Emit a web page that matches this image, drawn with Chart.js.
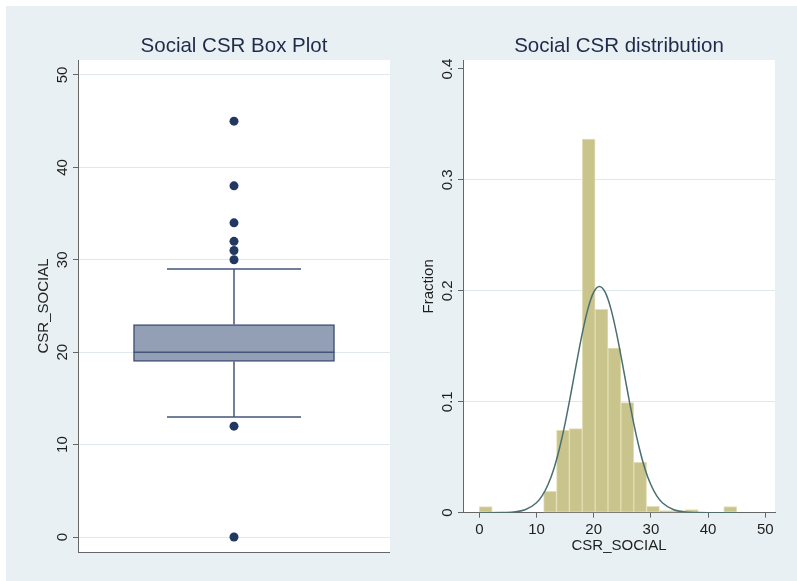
<!DOCTYPE html>
<html>
<head>
<meta charset="utf-8">
<script src="https://cdn.jsdelivr.net/npm/chart.js@4.4.0/dist/chart.umd.min.js"></script>
<style>
html,body{margin:0;padding:0;background:#ffffff;overflow:hidden;width:797px;height:581px;}
#bg{position:absolute;left:6px;top:6px;width:800px;height:600px;background:#e9f0f3;}
#c1{position:absolute;left:0;top:0;}
#c2{position:absolute;left:390px;top:0;}
</style>
</head>
<body>
<div id="bg"></div>
<canvas id="c1" width="390" height="581"></canvas>
<canvas id="c2" width="407" height="581"></canvas>
<script>
// ---------- data ----------
const boxTitle = 'Social CSR Box Plot';
const histTitle = 'Social CSR distribution';
const varName = 'CSR_SOCIAL';
const yTitleHist = 'Fraction';

// lower whisker, Q1, median, Q3, upper whisker
const boxStats = [13, 19, 20, 23, 29];
const outliers = [0, 12, 30, 31, 32, 34, 38, 45];
const boxTicks = [0, 10, 20, 30, 40, 50];
const boxTickLabels = ['0', '10', '20', '30', '40', '50'];

const binLow = [0, 2.25, 4.5, 6.75, 9, 11.25, 13.5, 15.75, 18, 20.25, 22.5, 24.75, 27, 29.25, 31.5, 33.75, 36, 38.25, 40.5, 42.75];
const binWidth = 2.25;
const binFrac = [0.0055, 0, 0, 0, 0, 0.0193, 0.0743, 0.0758, 0.3367, 0.1834, 0.1485, 0.0992, 0.0454, 0.0057, 0.0018, 0.0018, 0.0027, 0, 0, 0.0056];

const normX = [0, 4, 6, 8, 10, 11, 12, 13, 14, 15, 16, 17, 18, 19, 20, 21, 22, 23, 24, 25, 26, 27, 28, 29, 30, 31, 32, 34, 36, 38, 40, 45];
const normY = [0.0000, 0.0001, 0.0006, 0.0026, 0.0090, 0.0154, 0.0252, 0.0390, 0.0576, 0.0805, 0.1070, 0.1350, 0.1617, 0.1840, 0.1988, 0.2040, 0.1988, 0.1840, 0.1617, 0.1350, 0.1070, 0.0805, 0.0576, 0.0390, 0.0252, 0.0154, 0.0090, 0.0026, 0.0006, 0.0001, 0.0000, 0.0000];

const histXTicks = [0, 10, 20, 30, 40, 50];
const histYTicks = [0, 0.1, 0.2, 0.3, 0.4];
const histYTickLabels = ['0', '0.1', '0.2', '0.3', '0.4'];

// ---------- styles ----------
const FONT = "'Liberation Sans', Arial, Helvetica, sans-serif";
Chart.defaults.font.family = FONT;
const axisColor = '#666666';
const gridColor = '#dfe9ec';
const textColor = '#1e1e1e';
const titleColor = '#1f2b4a';
const AXFONT = 15;

const titlePlugin = {
  id: 'panelTitle',
  afterDraw(chart, args, opts) {
    const ctx = chart.ctx, a = chart.chartArea;
    ctx.save();
    ctx.font = '20.5px ' + FONT;
    ctx.fillStyle = titleColor;
    ctx.textAlign = 'center';
    ctx.textBaseline = 'middle';
    ctx.fillText(opts.text, (a.left + a.right) / 2, 46);
    ctx.restore();
  }
};

const yLabelPlugin = {
  id: 'yRotLabels',
  afterDraw(chart, args, opts) {
    const ctx = chart.ctx, s = chart.scales.y;
    ctx.save();
    ctx.font = AXFONT + 'px ' + FONT;
    ctx.fillStyle = textColor;
    ctx.textAlign = 'center';
    ctx.textBaseline = 'alphabetic';
    opts.values.forEach((v, i) => {
      const y = s.getPixelForValue(v);
      ctx.save();
      ctx.translate(s.right - 11, y);
      ctx.rotate(-Math.PI / 2);
      ctx.fillText(opts.labels[i], 0, 0);
      ctx.restore();
    });
    ctx.restore();
  }
};

const plotBgPlugin = {
  id: 'plotBg',
  beforeDraw(chart) {
    const ctx = chart.ctx, a = chart.chartArea;
    ctx.save();
    ctx.fillStyle = '#ffffff';
    ctx.fillRect(a.left, a.top, a.right - a.left, a.bottom - a.top);
    ctx.restore();
  }
};

const boxLinesPlugin = {
  id: 'boxLines',
  afterDatasetsDraw(chart) {
    const ctx = chart.ctx, s = chart.scales.y;
    const bar = chart.getDatasetMeta(0).data[0];
    if (!bar) return;
    const cx = bar.x, half = bar.width / 2, capHalf = bar.width / 3;
    const pLo = s.getPixelForValue(boxStats[0]);
    const pQ1 = s.getPixelForValue(boxStats[1]);
    const pMed = s.getPixelForValue(boxStats[2]);
    const pQ3 = s.getPixelForValue(boxStats[3]);
    const pHi = s.getPixelForValue(boxStats[4]);
    ctx.save();
    ctx.strokeStyle = '#44557a';
    ctx.lineWidth = 1.5;
    ctx.beginPath();
    ctx.moveTo(cx, pQ3); ctx.lineTo(cx, pHi);
    ctx.moveTo(cx - capHalf, pHi); ctx.lineTo(cx + capHalf, pHi);
    ctx.moveTo(cx, pQ1); ctx.lineTo(cx, pLo);
    ctx.moveTo(cx - capHalf, pLo); ctx.lineTo(cx + capHalf, pLo);
    ctx.moveTo(cx - half, pMed); ctx.lineTo(cx + half, pMed);
    ctx.stroke();
    ctx.restore();
  }
};

// ---------- left: box plot ----------
new Chart(document.getElementById('c1'), {
  type: 'bar',
  data: {
    labels: [varName],
    datasets: [
      {
        type: 'bar',
        data: [[boxStats[1], boxStats[3]]],
        backgroundColor: '#929fb5',
        borderColor: '#3f5176',
        borderWidth: 1.5,
        borderSkipped: false,
        barThickness: 201,
        order: 2
      },
      {
        type: 'line',
        showLine: false,
        data: outliers.map(v => ({ x: varName, y: v })),
        pointRadius: 4.5,
        pointBackgroundColor: '#233860',
        pointBorderWidth: 0,
        order: 1
      }
    ]
  },
  options: {
    responsive: false,
    animation: false,
    layout: { autoPadding: false, padding: { top: 60, right: 0, left: 0, bottom: 0 } },
    plugins: {
      legend: { display: false },
      tooltip: { enabled: false },
      panelTitle: { text: boxTitle },
      yRotLabels: { values: boxTicks, labels: boxTickLabels }
    },
    scales: {
      x: {
        type: 'category',
        offset: true,
        ticks: { display: false },
        grid: { display: false },
        border: { display: true, color: axisColor, width: 1 },
        afterFit(s) { s.height = 29; }
      },
      y: {
        min: -1.62,
        max: 51.62,
        afterBuildTicks(s) { s.ticks = boxTicks.map(v => ({ value: v })); },
        ticks: { display: false },
        grid: { color: gridColor, tickColor: axisColor, tickLength: 5, drawTicks: true },
        border: { color: axisColor, width: 1 },
        title: { display: true, text: varName, color: textColor, font: { size: AXFONT, family: FONT }, padding: { top: 35, bottom: 0 } },
        afterFit(s) { s.width = 78; }
      }
    }
  },
  plugins: [plotBgPlugin, titlePlugin, yLabelPlugin, boxLinesPlugin]
});

// ---------- right: histogram ----------
new Chart(document.getElementById('c2'), {
  type: 'bar',
  data: {
    datasets: [
      {
        type: 'bar',
        data: binLow.map((lo, i) => ({ x: lo + binWidth / 2, y: binFrac[i] > 0 ? binFrac[i] : null })),
        backgroundColor: '#c8c48c',
        borderColor: '#e2dfb8',
        borderWidth: 1,
        borderSkipped: false,
        categoryPercentage: 1,
        barPercentage: 1,
        order: 2
      },
      {
        type: 'line',
        data: normX.map((x, i) => ({ x: x, y: normY[i] })),
        borderColor: '#4b6f70',
        borderWidth: 1.5,
        pointRadius: 0,
        cubicInterpolationMode: 'monotone',
        fill: false,
        order: 1
      }
    ]
  },
  options: {
    responsive: false,
    animation: false,
    layout: { autoPadding: false, padding: { top: 60, right: 22, left: 0, bottom: 0 } },
    plugins: {
      legend: { display: false },
      tooltip: { enabled: false },
      panelTitle: { text: histTitle },
      yRotLabels: { values: histYTicks, labels: histYTickLabels }
    },
    scales: {
      x: {
        type: 'linear',
        min: -2.85,
        max: 51.7,
        offset: false,
        afterBuildTicks(s) { s.ticks = histXTicks.map(v => ({ value: v })); },
        ticks: { color: textColor, font: { size: AXFONT, family: FONT }, padding: 3, maxRotation: 0, autoSkip: false, callback: v => String(v) },
        grid: { offset: false, drawOnChartArea: false, tickColor: axisColor, tickLength: 5 },
        border: { color: axisColor, width: 1 },
        title: { display: true, text: varName, color: textColor, font: { size: AXFONT, family: FONT }, padding: { top: 0, bottom: 26 } },
        afterFit(s) { s.height = 68.3; }
      },
      y: {
        min: 0,
        max: 0.4081,
        afterBuildTicks(s) { s.ticks = histYTicks.map(v => ({ value: v })); },
        ticks: { display: false },
        grid: {
          color: c => (c.tick && (c.tick.value === 0.4)) ? 'rgba(0,0,0,0)' : gridColor,
          tickColor: axisColor, tickLength: 5
        },
        border: { color: axisColor, width: 1 },
        title: { display: true, text: yTitleHist, color: textColor, font: { size: AXFONT, family: FONT }, padding: { top: 30, bottom: 0 } },
        afterFit(s) { s.width = 73; }
      }
    }
  },
  plugins: [plotBgPlugin, titlePlugin, yLabelPlugin]
});
</script>
</body>
</html>
